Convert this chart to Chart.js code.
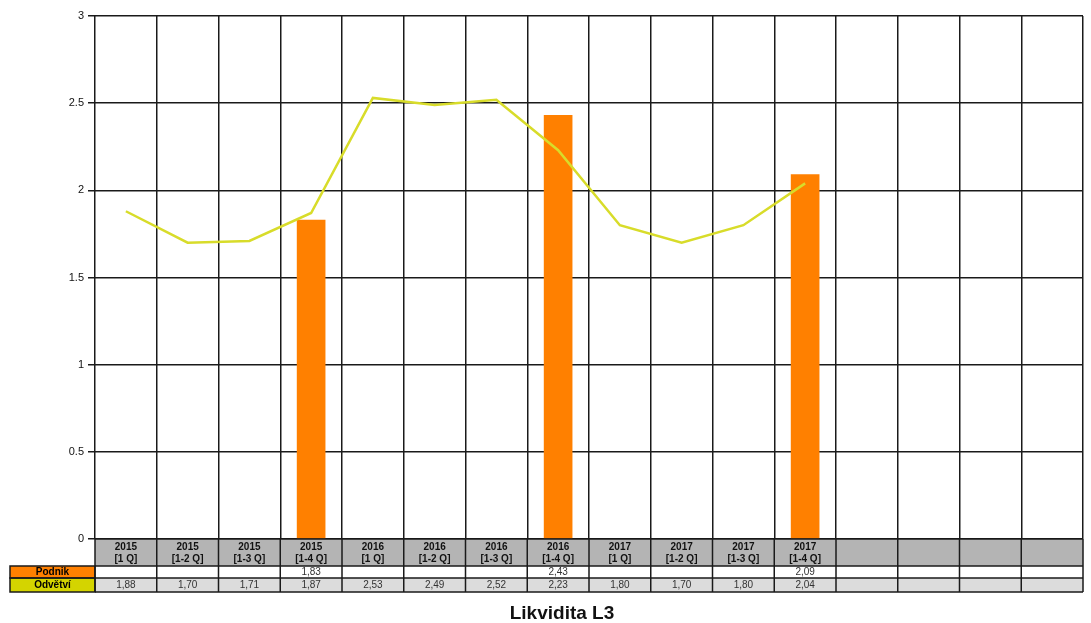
<!DOCTYPE html>
<html>
<head>
<meta charset="utf-8">
<script src="https://cdn.jsdelivr.net/npm/chart.js@4"></script>
<style>
  html, body { margin: 0; padding: 0; background: #fff; }
  #wrap { width: 1091px; height: 623px; }
</style>
</head>
<body>
<div id="wrap"><canvas id="likvidita"></canvas></div>
<script>
// data
var roky = ['2015', '2015', '2015', '2015', '2016', '2016', '2016', '2016', '2017', '2017', '2017', '2017', '', '', '', ''];
var obdobi = ['[1 Q]', '[1-2 Q]', '[1-3 Q]', '[1-4 Q]', '[1 Q]', '[1-2 Q]', '[1-3 Q]', '[1-4 Q]', '[1 Q]', '[1-2 Q]', '[1-3 Q]', '[1-4 Q]', '', '', '', ''];
var podnik = [null, null, null, 1.83, null, null, null, 2.43, null, null, null, 2.09, null, null, null, null];
var odvetvi = [1.88, 1.70, 1.71, 1.87, 2.53, 2.49, 2.52, 2.23, 1.80, 1.70, 1.80, 2.04, null, null, null, null];
var yTicks = [0, 0.5, 1, 1.5, 2, 2.5, 3];

var font = '"Liberation Sans", Arial, sans-serif';

function fmt(v) {
    return v == null ? '' : v.toFixed(2).replace('.', ',');
}

// table under the plot + title
var tabulka = {
    id: 'tabulka',
    afterDraw: function(chart) {
        var c = chart.ctx;
        var x = chart.scales.x;
        var a = chart.chartArea;
        var n = roky.length;
        var w = (a.right - a.left) / n;
        var y0 = a.bottom, y1 = y0 + 27, y2 = y1 + 12, y3 = y2 + 14;

        c.save();
        // header row
        c.fillStyle = '#b4b4b4';
        c.fillRect(a.left, y0, a.right - a.left, y1 - y0);
        c.fillStyle = '#ffffff';
        c.fillRect(a.left, y1, a.right - a.left, y2 - y1);
        c.fillStyle = '#dcdcdc';
        c.fillRect(a.left, y2, a.right - a.left, y3 - y2);

        // row labels
        c.fillStyle = '#ff8000';
        c.fillRect(10, y1, a.left - 10, y2 - y1);
        c.fillStyle = '#d4d400';
        c.fillRect(10, y2, a.left - 10, y3 - y2);

        c.strokeStyle = '#1a1a1a';
        c.lineWidth = 1.5;
        c.strokeRect(10, y1, a.left - 10, y2 - y1);
        c.strokeRect(10, y2, a.left - 10, y3 - y2);
        c.beginPath();
        [y0, y1, y2, y3].forEach(function(yy) {
            c.moveTo(a.left, yy);
            c.lineTo(a.right, yy);
        });
        for (var i = 0; i <= n; i++) {
            var xx = a.left + i * w;
            c.moveTo(xx, y0);
            c.lineTo(xx, y3);
        }
        c.stroke();

        c.textAlign = 'center';
        c.textBaseline = 'middle';
        c.fillStyle = '#000';
        c.font = 'bold 10px ' + font;
        c.fillText('Podnik', (10 + a.left) / 2, (y1 + y2) / 2 + 0.5);
        c.fillText('Odvětví', (10 + a.left) / 2, (y2 + y3) / 2 + 0.5);

        for (var i = 0; i < n; i++) {
            var cx = x.getPixelForValue(i);
            c.font = 'bold 10px ' + font;
            c.fillStyle = '#111';
            c.fillText(roky[i], cx, y0 + 8);
            c.fillText(obdobi[i], cx, y0 + 20);
            c.font = '10px ' + font;
            c.fillStyle = '#333';
            c.fillText(fmt(podnik[i]), cx, (y1 + y2) / 2 + 0.5);
            c.fillText(fmt(odvetvi[i]), cx, (y2 + y3) / 2 + 0.5);
        }

        c.font = 'bold 19px ' + font;
        c.fillStyle = '#111';
        c.fillText('Likvidita L3', 562, 614);
        c.restore();
    }
};

var ctx = document.getElementById('likvidita').getContext('2d');
var chart = new Chart(ctx, {
    type: 'bar',
    data: {
        labels: roky.map(function(r, i) { return r + ' ' + obdobi[i]; }),
        datasets: [{
            type: 'line',
            label: 'Odvětví',
            data: odvetvi,
            borderColor: '#d8dc2a',
            backgroundColor: '#d8dc2a',
            borderWidth: 2.5,
            pointRadius: 0,
            tension: 0,
            order: 0
        }, {
            label: 'Podnik',
            data: podnik,
            backgroundColor: '#ff8000',
            borderWidth: 0,
            barThickness: 28,
            order: 1
        }]
    },
    plugins: [tabulka],
    options: {
        responsive: true,
        maintainAspectRatio: false,
        animation: false,
        layout: { padding: { left: 0, right: 8, top: 16, bottom: 0 } },
        plugins: {
            legend: { display: false },
            tooltip: { enabled: false }
        },
        scales: {
            x: {
                offset: true,
                grid: { offset: true, color: '#1a1a1a', lineWidth: 1.5, drawTicks: false },
                border: { display: false },
                ticks: { display: false },
                afterFit: function(s) { s.height = 84; }
            },
            y: {
                min: 0,
                max: 3,
                afterBuildTicks: function(s) {
                    s.ticks = yTicks.map(function(v) { return { value: v }; });
                },
                grid: { color: '#1a1a1a', lineWidth: 1.5, tickLength: 7 },
                border: { display: false },
                ticks: {
                    color: '#111',
                    font: { family: font, size: 11 },
                    padding: 4,
                    callback: function(v) { return String(v); }
                },
                afterFit: function(s) { s.width = 95; }
            }
        }
    }
});
</script>
</body>
</html>
